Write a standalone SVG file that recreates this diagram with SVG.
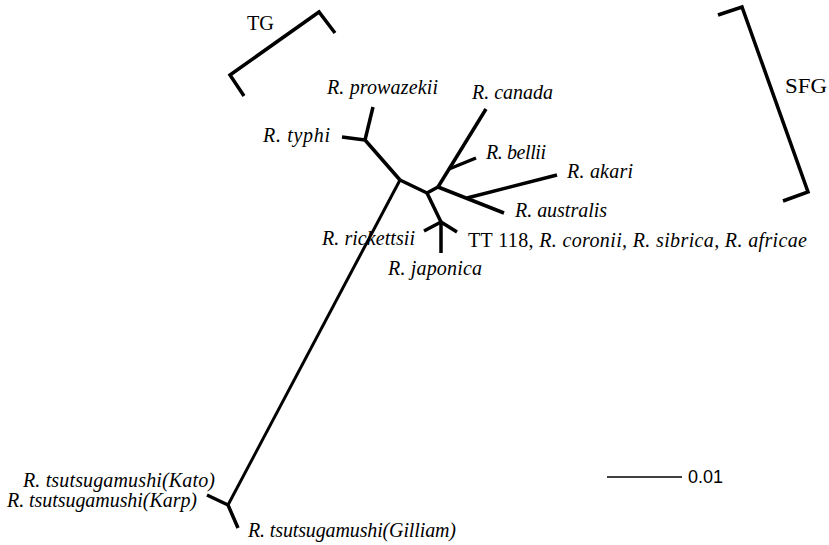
<svg xmlns="http://www.w3.org/2000/svg" width="829" height="545" viewBox="0 0 829 545">
  <style>
    .br { fill: none; stroke: #000; stroke-width: 3.5; stroke-linecap: butt; stroke-linejoin: round; }
    .bk { fill: none; stroke: #000; stroke-width: 3.5; stroke-linejoin: miter; }
    .lab { font-family: "Liberation Serif", "DejaVu Serif", serif; font-size: 20px; font-style: italic; fill: #000; }
    .up { font-style: normal; }
    .grp { font-family: "Liberation Serif", "DejaVu Serif", serif; font-size: 22px; fill: #000; }
    .scl { font-family: "Liberation Sans", Arial, sans-serif; font-size: 18px; fill: #000; }
  </style>
  <rect width="829" height="545" fill="#fff"/>

  <!-- tree branches -->
  <g id="connectors">
    <!-- typhus group -->
    <polyline class="br" points="373,107 365,140"/>
    <polyline class="br" points="342,137 365,140 400,180"/>
    <!-- internal spine -->
    <polyline class="br" points="400,180 427,193 438,187"/>
    <!-- canada / bellii -->
    <polyline class="br" points="438,187 486,109"/>
    <polyline class="br" points="449,169 476,158"/>
    <!-- australis / akari -->
    <polyline class="br" points="438,187 504,213"/>
    <polyline class="br" points="467,198 557,175"/>
    <!-- rickettsii / TT / japonica -->
    <polyline class="br" points="427,193 441,222"/>
    <polyline class="br" points="424,231 441,222 457,232"/>
    <polyline class="br" points="441,222 441,253"/>
    <!-- scrub typhus long branch -->
    <polyline class="br" points="400,180 228,505" style="stroke-width:3"/>
    <polyline class="br" points="207,495 228,505 238,528"/>
  </g>

  <!-- group brackets -->
  <g id="bracket-tg">
    <polyline class="bk" points="244,96 230,75 319,12 335,33"/>
    <text class="grp" x="247" y="30" textLength="27" lengthAdjust="spacingAndGlyphs">TG</text>
  </g>
  <g id="bracket-sfg">
    <polyline class="bk" points="718,15 742,7 808,192 783,201"/>
    <text class="grp" x="785" y="93" textLength="42" lengthAdjust="spacingAndGlyphs">SFG</text>
  </g>

  <!-- taxon labels -->
  <g id="prowazekii"><text class="lab" x="327" y="94" textLength="111">R. prowazekii</text></g>
  <g id="typhi"><text class="lab" x="263" y="142" textLength="67">R. typhi</text></g>
  <g id="canada"><text class="lab" x="472" y="99" textLength="81">R. canada</text></g>
  <g id="bellii"><text class="lab" x="486" y="159" textLength="60">R. bellii</text></g>
  <g id="akari"><text class="lab" x="567" y="178" textLength="66">R. akari</text></g>
  <g id="australis"><text class="lab" x="515" y="217" textLength="92">R. australis</text></g>
  <g id="tt118"><text class="lab" x="468" y="247" textLength="339"><tspan class="up">TT 118, </tspan>R. coronii, R. sibrica, R. africae</text></g>
  <g id="rickettsii"><text class="lab" x="322" y="245" textLength="93">R. rickettsii</text></g>
  <g id="japonica"><text class="lab" x="388" y="275" textLength="94">R. japonica</text></g>
  <g id="kato"><text class="lab" x="23" y="487" textLength="192">R. tsutsugamushi(Kato)</text></g>
  <g id="karp"><text class="lab" x="7" y="507" textLength="190">R. tsutsugamushi(Karp)</text></g>
  <g id="gilliam"><text class="lab" x="248" y="537" textLength="208">R. tsutsugamushi(Gilliam)</text></g>

  <!-- scale bar -->
  <g id="scale">
    <line x1="607" y1="477" x2="682" y2="477" stroke="#000" stroke-width="1.5"/>
    <text class="scl" x="688" y="483">0.01</text>
  </g>
</svg>
